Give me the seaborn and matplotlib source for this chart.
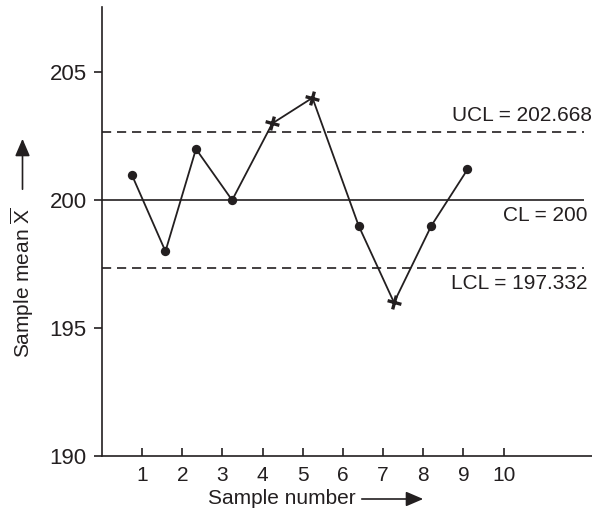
import numpy as np
import pandas as pd
import matplotlib
matplotlib.use('Agg')
import matplotlib.pyplot as plt
from matplotlib.markers import MarkerStyle
from matplotlib.transforms import Affine2D
import seaborn as sns

# Sample means (x positions as drawn, slightly off the ticks)
sample_pos = [0.74, 1.58, 2.34, 3.24, 4.24, 5.24, 6.39, 7.27, 8.20, 9.10]
sample_mean = [201.0, 198.0, 202.0, 200.0, 203.0, 204.0, 199.0, 196.0, 199.0, 201.2]
in_control = [True, True, True, True, False, False, True, False, True, True]

tick_numbers = [1, 2, 3, 4, 5, 6, 7, 8, 9, 10]
y_ticks = [190, 195, 200, 205]

UCL = 202.668
CL = 200
LCL = 197.332

ink = '#231f20'

sns.set_style('ticks')
plt.rcParams['font.family'] = ['Liberation Sans', 'DejaVu Sans']
plt.rcParams['font.size'] = 15
plt.rcParams['mathtext.fontset'] = 'custom'
plt.rcParams['mathtext.rm'] = 'Liberation Sans'

df = pd.DataFrame({'pos': sample_pos, 'mean': sample_mean, 'ok': in_control})

fig = plt.figure(figsize=(5.92, 5.12), dpi=100)
ax = fig.add_axes([0.1723, 0.1094, 0.8277, 0.8769])

# connecting line
sns.lineplot(data=df, x='pos', y='mean', sort=False, color=ink, lw=1.3, ax=ax, zorder=3)

# in-control points as dots
sns.scatterplot(data=df[df['ok']], x='pos', y='mean', color=ink, s=45,
                edgecolor=ink, linewidth=0, ax=ax, zorder=4)

# out-of-control points as tilted plus marks
plus = MarkerStyle('+', transform=Affine2D().rotate_deg(-15))
sns.scatterplot(data=df[~df['ok']], x='pos', y='mean', color=ink, marker=plus,
                s=105, linewidth=2.4, ax=ax, zorder=4)

# control lines
ax.hlines(CL, 0, 12, color=ink, lw=1.2)
ax.hlines([UCL, LCL], 0, 12, color=ink, lw=1.2, linestyles=(0, (5.5, 3.5)))

ax.text(12.2, UCL + 0.28, f'UCL = {UCL:.3f}', ha='right', va='bottom', color=ink)
ax.text(12.1, CL - 0.22, f'CL = {CL}', ha='right', va='top', color=ink)
ax.text(12.1, LCL - 0.22, f'LCL = {LCL:.3f}', ha='right', va='top', color=ink)

ax.set_xlim(0, 12.2)
ax.set_ylim(190, 207.55)
ax.set_xticks(tick_numbers)
ax.set_yticks(y_ticks)
ax.tick_params(axis='x', direction='in', length=6, width=1.2, pad=7, colors=ink, labelsize=15)
ax.tick_params(axis='y', direction='out', length=6, width=1.2, pad=5, colors=ink, labelsize=16)
for side in ['top', 'right']:
    ax.spines[side].set_visible(False)
for side in ['left', 'bottom']:
    ax.spines[side].set_linewidth(1.2)
    ax.spines[side].set_color(ink)
ax.set_xlabel('')
ax.set_ylabel('')

# axis titles with arrows
fig.text(282 / 592, 1 - 499 / 512, 'Sample number', ha='center', va='center', color=ink, fontsize=15)
fig.add_artist(matplotlib.patches.FancyArrowPatch(
    (359 / 592, 1 - 499 / 512), (426 / 592, 1 - 499 / 512), transform=fig.transFigure,
    arrowstyle='-|>,head_length=0.7,head_width=0.3', mutation_scale=15, color=ink, lw=1.2))

fig.text(22.5 / 592, 1 - 283 / 512, r'Sample mean $\overline{\mathrm{X}}$', rotation=90,
         ha='center', va='center', color=ink, fontsize=15)
fig.add_artist(matplotlib.patches.FancyArrowPatch(
    (22.5 / 592, 1 - 192 / 512), (22.5 / 592, 1 - 136 / 512), transform=fig.transFigure,
    arrowstyle='-|>,head_length=0.7,head_width=0.3', mutation_scale=15, color=ink, lw=1.2))

fig.savefig('out.png', dpi=100)
